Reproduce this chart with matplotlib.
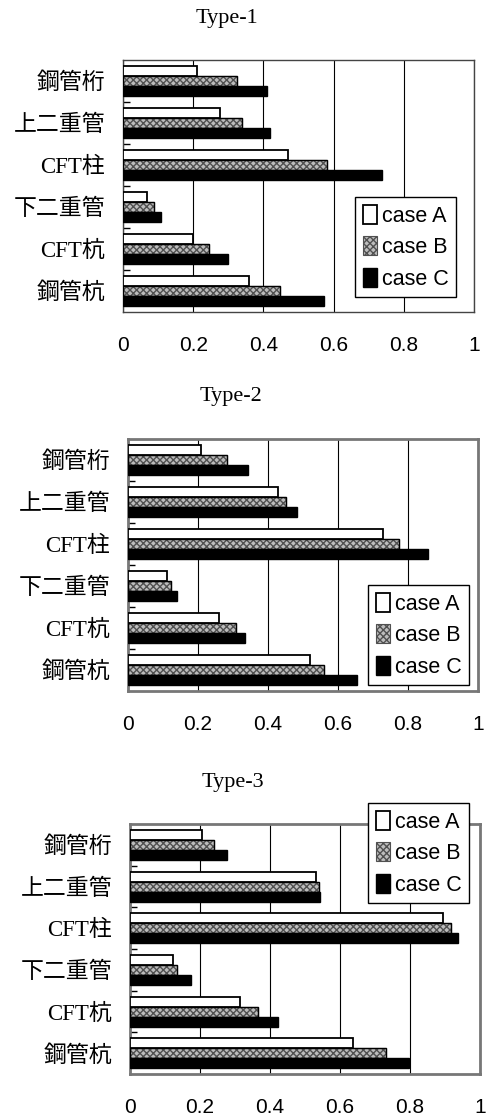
import matplotlib.pyplot as plt
import numpy as np

# Members (top to bottom) and ratios for each load case
members = ['鋼管桁', '上二重管', 'CFT柱', '下二重管', 'CFT杭', '鋼管杭']
cases = ['case A', 'case B', 'case C']

type1_a = [0.21, 0.277, 0.469, 0.069, 0.20, 0.358]
type1_b = [0.325, 0.34, 0.58, 0.087, 0.245, 0.448]
type1_c = [0.41, 0.42, 0.737, 0.109, 0.30, 0.574]

type2_a = [0.21, 0.43, 0.73, 0.111, 0.259, 0.521]
type2_b = [0.284, 0.452, 0.775, 0.124, 0.308, 0.56]
type2_c = [0.342, 0.483, 0.858, 0.14, 0.334, 0.655]

type3_a = [0.205, 0.53, 0.894, 0.123, 0.315, 0.637]
type3_b = [0.24, 0.54, 0.916, 0.135, 0.367, 0.732]
type3_c = [0.277, 0.543, 0.937, 0.173, 0.422, 0.798]

xticks = [0, 0.2, 0.4, 0.6, 0.8, 1]
xtick_labels = ['0', '0.2', '0.4', '0.6', '0.8', '1']

W, H = 491, 1117
fig = plt.figure(figsize=(W / 100, H / 100), dpi=100)

jp_font = ['Liberation Serif', 'Noto Sans CJK JP']


def px_axes(left, top, right, bottom):
    return fig.add_axes([left / W, 1 - bottom / H, (right - left) / W, (bottom - top) / H])


def draw_panel(box, title, a, b, c, legend_pos, dotted_frame):
    ax = px_axes(*box)
    y = np.arange(len(members))
    h = 0.24
    ax.barh(y - h, a, height=h, color='white', edgecolor='black', lw=1.3, label=cases[0], zorder=3)
    ax.barh(y, b, height=h, color='#bdbdbd', edgecolor='#505050', hatch='xxxxx',
            lw=0.8, label=cases[1], zorder=3)
    ax.barh(y, b, height=h, fill=False, edgecolor='black', lw=1.0, zorder=4)
    ax.barh(y + h, c, height=h, color='black', edgecolor='black', lw=1.0, label=cases[2], zorder=3)

    ax.set_xlim(0, 1)
    ax.set_ylim(len(members) - 0.5, -0.5)
    ax.set_xticks(xticks)
    ax.set_xticklabels(xtick_labels, family='Liberation Sans', fontsize=15)
    ax.tick_params(axis='x', length=0, pad=17)
    ax.xaxis.grid(True, color='black', lw=0.8, zorder=0)
    ax.set_yticks(y)
    ax.set_yticklabels(members, family=jp_font, fontsize=16.5)
    ax.tick_params(axis='y', length=0, pad=13)
    ax.set_yticks(np.arange(len(members) - 1) + 0.5, minor=True)
    ax.tick_params(axis='y', which='minor', direction='in', length=5, width=1, color='black')

    for s in ax.spines.values():
        if dotted_frame:
            s.set_color('#777777')
            s.set_linestyle((0, (1, 1)))
            s.set_linewidth(2)
        else:
            s.set_color('#444444')
            s.set_linewidth(1)

    cx = (box[0] + box[2]) / 2 - 72
    fig.text(cx / W, 1 - (box[1] - 42) / H, title, ha='center', va='center',
             family='Liberation Serif', fontsize=16)

    leg = ax.legend(loc='upper left', bbox_to_anchor=(legend_pos[0] / W, 1 - legend_pos[1] / H),
                    bbox_transform=fig.transFigure, prop={'family': 'Liberation Sans', 'size': 15.5},
                    fancybox=False, framealpha=1, edgecolor='black', handlelength=0.65,
                    handleheight=1.0, handletextpad=0.25, labelspacing=0.45, borderpad=0.35,
                    borderaxespad=0)
    leg.get_frame().set_linewidth(1)
    return ax


draw_panel((123, 60, 474, 312), 'Type-1', type1_a, type1_b, type1_c, (355, 197), False)
draw_panel((128, 439, 478, 691), 'Type-2', type2_a, type2_b, type2_c, (368, 585), True)
draw_panel((130, 824, 480, 1074), 'Type-3', type3_a, type3_b, type3_c, (368, 803), True)

plt.savefig('out.png', dpi=100)
